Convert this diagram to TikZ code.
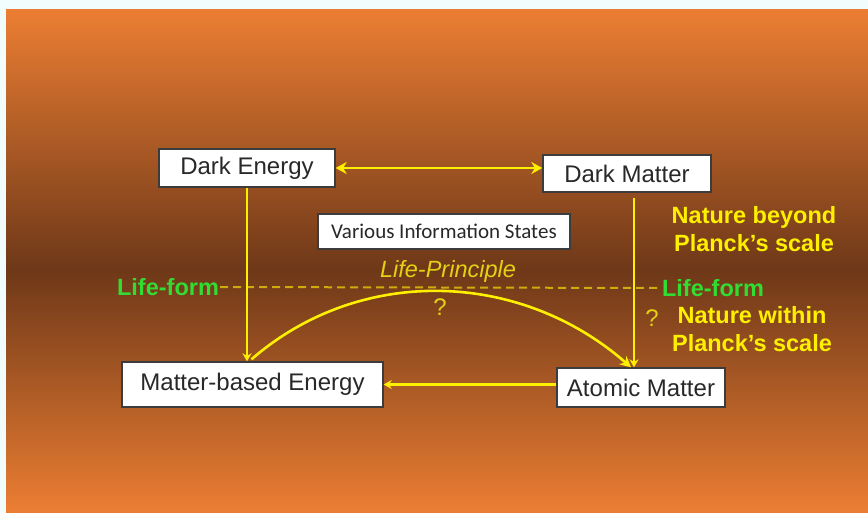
\documentclass[tikz,border=0pt]{standalone}
\usepackage{fontspec}
\setmainfont{Liberation Sans}
\newfontfamily\calfont{Carlito}
\usetikzlibrary{arrows.meta,calc}
\definecolor{bgedge}{RGB}{240,253,252}
\definecolor{orangetop}{RGB}{236,126,51}
\definecolor{brownmid}{RGB}{110,56,24}
\definecolor{boxborder}{RGB}{60,60,60}
\definecolor{boxtext}{RGB}{40,40,40}
\definecolor{lineyellow}{RGB}{255,240,0}
\definecolor{dimyellow}{RGB}{228,208,20}
\definecolor{dashyellow}{RGB}{205,172,15}
\definecolor{lifegreen}{RGB}{50,220,50}
\tikzset{
  box/.style={draw=boxborder, line width=1.4pt, fill=white, text=boxtext, inner sep=0pt, font=\fontsize{24}{26}\selectfont},
  conn/.style={draw=lineyellow, line width=2.6pt},
  tip/.style={-{Stealth[length=11pt,width=11pt]}},
  smalltip/.style={-{Stealth[length=8pt,width=9pt]}},
  greenlbl/.style={text=lifegreen, font=\bfseries\fontsize{23.5}{26}\selectfont, inner sep=1pt},
  yellbl/.style={text=lineyellow, font=\bfseries\fontsize{23.5}{28}\selectfont, align=center, inner sep=0pt},
  dimlbl/.style={text=dimyellow, font=\fontsize{24}{26}\selectfont, inner sep=0pt}
}
\begin{document}
\begin{tikzpicture}[x=1pt,y=-1pt]
\useasboundingbox (0,0) rectangle (868,512);
\fill[bgedge] (0,0) rectangle (868,512);
\shade[top color=orangetop, bottom color=brownmid] (6,9) rectangle (868,270);
\shade[top color=brownmid, bottom color=orangetop] (6,270) rectangle (868,512);

\node[box, minimum width=176pt, minimum height=38pt] (de) at (247,168) {Dark Energy};
\node[box, minimum width=168pt, minimum height=37pt] (dm) at (627,173.5) {Dark Matter};
\node[box, minimum width=252pt, minimum height=35pt, font=\calfont\fontsize{21}{24}\selectfont] (vis) at (444,231.5) {Various Information States};
\node[box, minimum width=261pt, minimum height=45pt] (mbe) at (252.5,384.5) {Matter-based Energy};
\node[box, minimum width=168pt, minimum height=39pt] (am) at (641,387.5) {Atomic Matter};

\node[greenlbl] (lfl) at (168,287) {Life-form};
\node[greenlbl] (lfr) at (713,288) {Life-form};
\draw[dashyellow, line width=2pt, dash pattern=on 8pt off 5pt] (lfl.east) -- (lfr.west);

\node[dimlbl, font=\itshape\fontsize{23.5}{26}\selectfont] (lp) at (448,271) {Life-Principle};
\node[dimlbl] (q1) at (440,307) {?};
\node[dimlbl] (q2) at (652,318) {?};
\node[yellbl] (nb) at (754,229) {Nature beyond\\Planck’s scale};
\node[yellbl] (nw) at (752,329) {Nature within\\Planck’s scale};

\draw[conn, {Stealth[length=11pt,width=12pt]}-{Stealth[length=11pt,width=12pt]}] (de.east) -- (dm.west |- de.east);
\draw[conn, smalltip] (de.south) -- (de.south |- mbe.north);
\coordinate (dmdrop) at ($(dm.south)+(7,5)$);
\draw[conn, smalltip] (dmdrop) -- (dmdrop |- am.north);
\draw[conn, smalltip] (am.west |- mbe.east) -- (mbe.east);
\coordinate (cstart) at ($(mbe.north)+(-1,-2)$);
\coordinate (cend) at ($(am.north)+(-10,0)$);
\draw[conn, tip] (cstart) .. controls (360,265) and (520,270) .. (cend);
\end{tikzpicture}
\end{document}
